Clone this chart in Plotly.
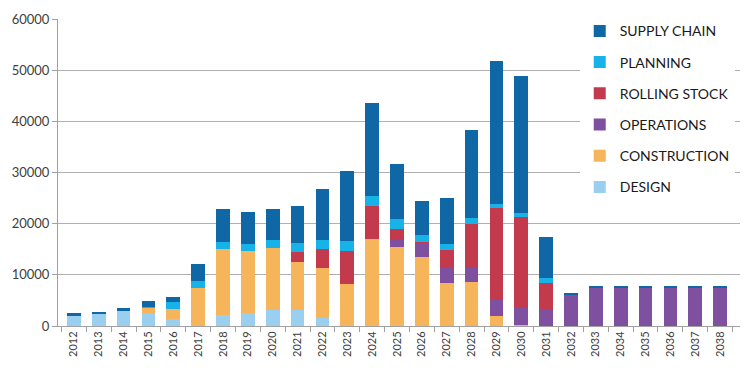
import plotly.graph_objects as go

years = [str(y) for y in range(2012, 2039)]

design = [2000, 2300, 3000, 2600, 1300, 0, 2200, 2500, 3100, 3100, 1600, 0, 0,
          0, 0, 0, 0, 0, 0, 0, 0, 0, 0, 0, 0, 0, 0]
construction = [0, 0, 0, 1000, 2000, 7400, 12800, 12200, 12100, 9500, 9800, 8200, 17000,
                15400, 13400, 8500, 8600, 1900, 200, 0, 0, 0, 0, 0, 0, 0, 0]
operations = [0, 0, 0, 0, 0, 0, 0, 0, 0, 0, 0, 0, 0,
              1500, 2900, 2900, 2800, 3100, 3300, 3100, 6200, 7600, 7600, 7600, 7600, 7600, 7600]
rolling_stock = [0, 0, 0, 0, 0, 0, 0, 0, 0, 1800, 3700, 6400, 6500,
                 2000, 200, 3400, 8600, 18000, 17800, 5400, 0, 0, 0, 0, 0, 0, 0]
planning = [0, 0, 0, 200, 1300, 1300, 1500, 1300, 1700, 1800, 1800, 2100, 1900,
            2000, 1300, 1200, 1100, 900, 800, 800, 0, 0, 0, 0, 0, 0, 0]
supply_chain = [500, 500, 500, 1100, 1100, 3400, 6400, 6300, 6000, 7300, 9900, 13600, 18200,
                10800, 6700, 9100, 17300, 27900, 26700, 8000, 200, 200, 200, 200, 200, 200, 200]

series = [
    ("DESIGN", design, "#9BCFF0"),
    ("CONSTRUCTION", construction, "#F6B55A"),
    ("OPERATIONS", operations, "#7F4FA0"),
    ("ROLLING STOCK", rolling_stock, "#C23A4C"),
    ("PLANNING", planning, "#17B2E8"),
    ("SUPPLY CHAIN", supply_chain, "#0F67A6"),
]

fig = go.Figure()
n = len(series)
for i, (name, vals, color) in enumerate(series):
    fig.add_trace(go.Bar(
        x=years, y=vals, name=name, legendgroup=name, legendrank=n - i,
        marker=dict(color=color, line=dict(width=0)),
        width=0.55,
    ))

fig.update_layout(
    barmode="stack",
    width=754, height=378,
    margin=dict(l=58, r=14, t=19, b=52, autoexpand=False),
    paper_bgcolor="white", plot_bgcolor="white",
    font=dict(family="Lato, sans-serif", color="#404040"),
    showlegend=True,
    legend=dict(
        x=0.765, y=1.012, xanchor="left", yanchor="top",
        traceorder="grouped", tracegroupgap=10,
        bgcolor="rgba(255,255,255,1)", font=dict(size=14, color="#1a1a1a"),
        itemwidth=30,
    ),
    xaxis=dict(
        type="category", range=[-0.64, 26.8],
        tickangle=-90, tickfont=dict(size=11, color="#404040"),
        showline=True, linecolor="#A0A0A0", linewidth=1,
        ticks="outside", tickson="boundaries", tickcolor="#A0A0A0", ticklen=5,
        showgrid=False,
    ),
    yaxis=dict(
        range=[0, 60000], dtick=10000, tickformat="d",
        tickfont=dict(size=13, color="#404040"),
        showline=True, linecolor="#A0A0A0", linewidth=1,
        ticks="outside", tickcolor="#A0A0A0", ticklen=5,
        showgrid=True, gridcolor="#B0B0B0", gridwidth=1,
        zeroline=False,
    ),
)

fig.write_html("out.html", config={"displayModeBar": False},
               post_script="document.body.style.margin='0';")
